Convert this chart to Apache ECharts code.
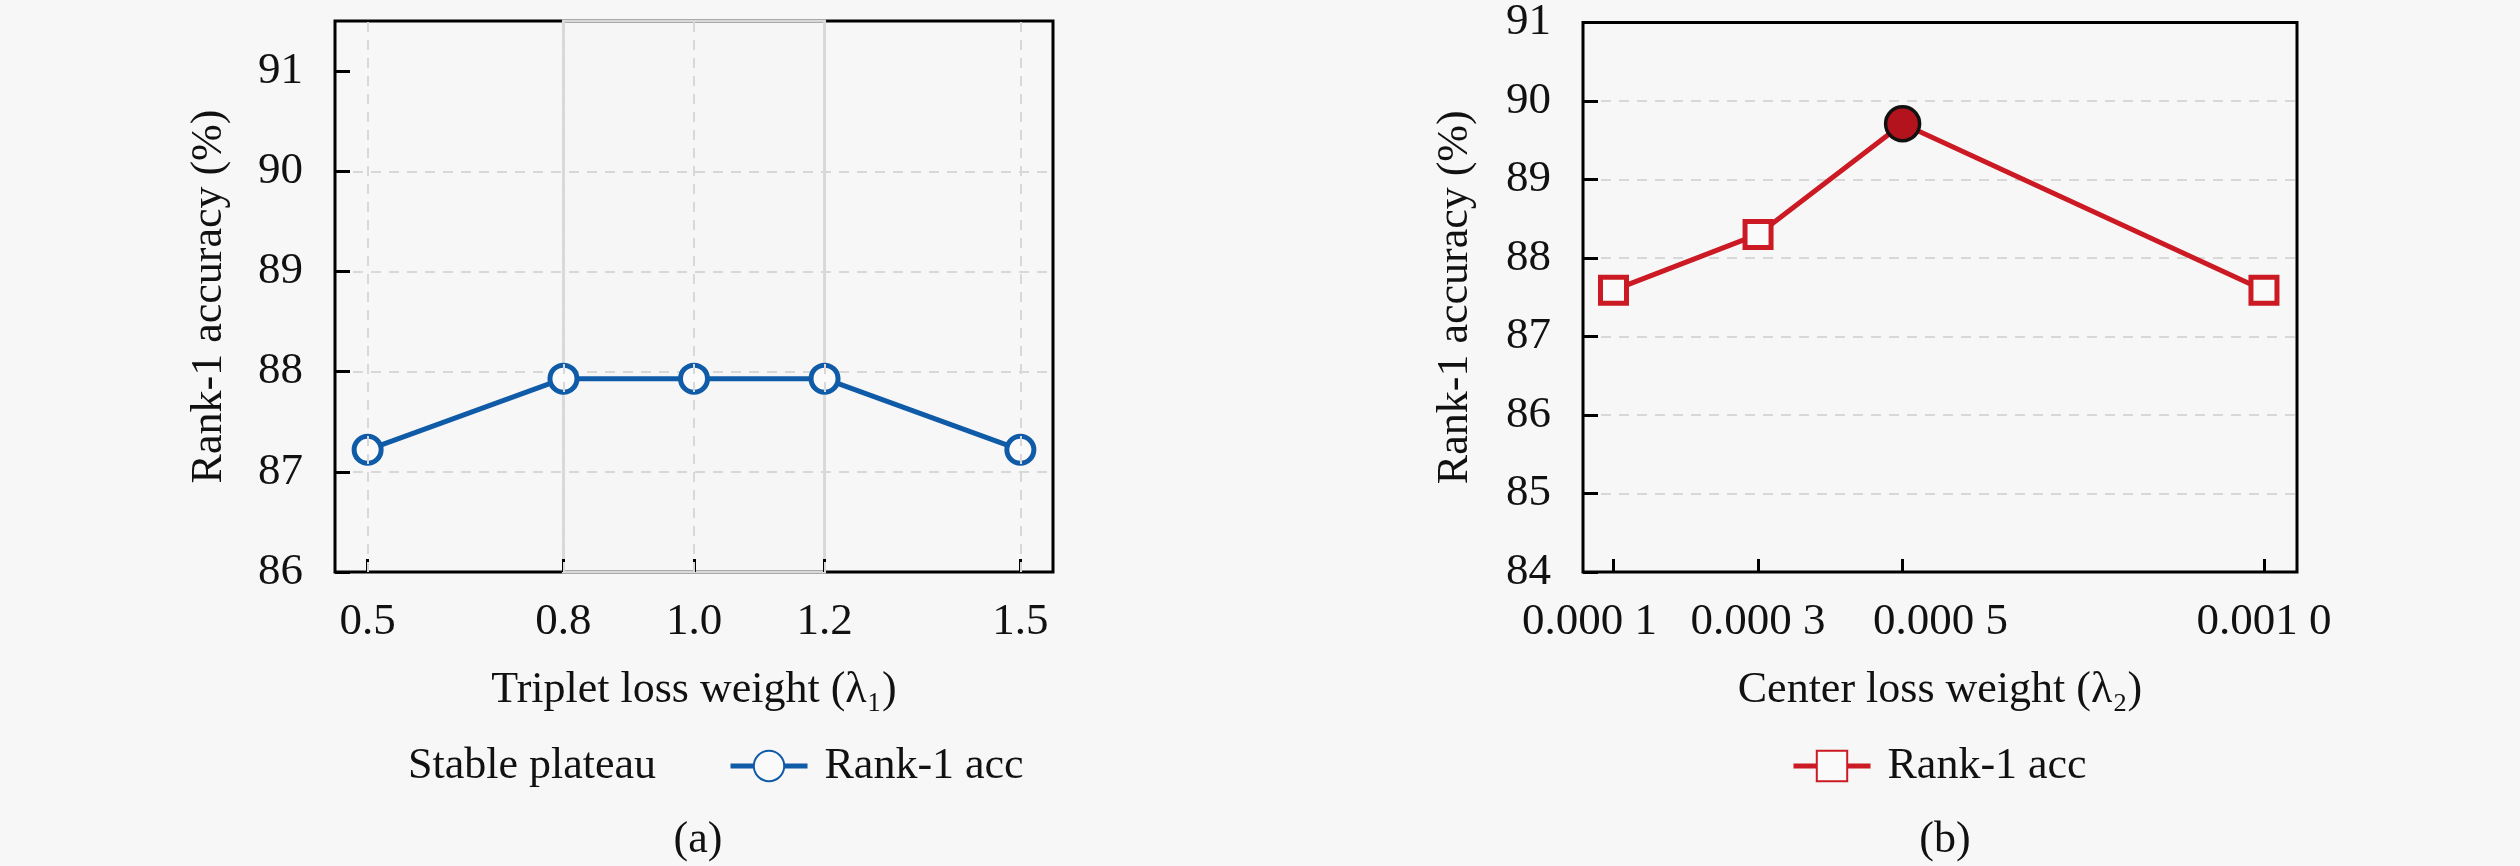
<!DOCTYPE html>
<html>
<head>
<meta charset="utf-8">
<script src="https://cdn.jsdelivr.net/npm/echarts@6.0.0/dist/echarts.min.js"></script>
<style>
  html, body { margin: 0; padding: 0; background: #f7f7f7; }
  #main { width: 2520px; height: 866px; }
</style>
</head>
<body>
<div id="main"></div>
<script>
// (a) triplet loss weight sweep
const tripletWeights = [0.5, 0.8, 1.0, 1.2, 1.5]
const tripletAcc = [87.22, 87.93, 87.93, 87.93, 87.22]
const plateauRange = [0.8, 1.2]
const accTicksA = [86, 87, 88, 89, 90, 91]

// (b) center loss weight sweep
const centerWeights = [0.0001, 0.0003, 0.0005, 0.0010]
const centerAcc = [87.59, 88.30, 89.71, 87.59]
const bestIndex = 2
const accTicksB = [84, 85, 86, 87, 88, 89, 90, 91]

const FONT = '"Liberation Serif", "DejaVu Serif", serif'
const BLUE = '#0f5ba8'
const RED = '#cc1a24'
const GRID_LINE = { color: '#d8d8d8', width: 2, type: [10, 8] }
const TICK_FONT = 45

// labels in (b) are nudged apart like in the original figure
const fmtCenter = v => {
  const s = v.toFixed(4)
  const txt = s.slice(0, 5) + ' ' + s.slice(5)
  if (v === centerWeights[0]) return '{l|' + txt + '}'
  if (v === centerWeights[2]) return '{r|' + txt + '}'
  return '{n|' + txt + '}'
}
const tickText = { fontFamily: FONT, fontSize: TICK_FONT, color: '#111' }

const chart = echarts.init(document.getElementById('main'), null, { renderer: 'canvas' })

function xAxisOf (idx, min, max, ticks, fmt, name) {
  return {
    type: 'value', gridIndex: idx, min: min, max: max, z: 2,
    name: name, nameLocation: 'middle', nameGap: 96,
    nameTextStyle: { fontFamily: FONT, fontSize: 44, color: '#111' },
    axisLine: { show: false },
    axisTick: { show: true, inside: true, length: 13, customValues: ticks, lineStyle: { color: '#000', width: 3 } },
    axisLabel: {
      customValues: ticks, formatter: fmt, margin: 28, fontFamily: FONT, fontSize: TICK_FONT, color: '#111',
      rich: {
        n: tickText,
        l: Object.assign({ padding: [0, 48, 0, 0] }, tickText),
        r: Object.assign({ padding: [0, 0, 0, 76] }, tickText)
      }
    },
    splitLine: { show: false }
  }
}

function yAxisOf (idx, min, max, ticks, gap) {
  return {
    type: 'value', gridIndex: idx, min: min, max: max, interval: 1,
    name: 'Rank-1 accuracy (%)', nameLocation: 'middle', nameGap: gap,
    nameTextStyle: { fontFamily: FONT, fontSize: 44, color: '#111' },
    axisLine: { show: false },
    axisTick: { show: true, inside: true, length: 15, customValues: ticks, lineStyle: { color: '#000', width: 3 } },
    axisLabel: { customValues: ticks, margin: 32, fontFamily: FONT, fontSize: TICK_FONT, color: '#111' },
    splitLine: { show: true, showMinLine: false, showMaxLine: false, lineStyle: GRID_LINE }
  }
}

const option = {
  backgroundColor: '#f7f7f7',
  animation: false,
  title: [
    { text: '(a)', left: 693, top: 813, textAlign: 'center', textStyle: { fontFamily: FONT, fontSize: 44, fontWeight: 'normal', color: '#111' } },
    { text: '(b)', left: 1940, top: 813, textAlign: 'center', textStyle: { fontFamily: FONT, fontSize: 44, fontWeight: 'normal', color: '#111' } }
  ],
  grid: [
    { left: 335, top: 21, width: 718, height: 551, show: true, borderColor: '#000', borderWidth: 3, backgroundColor: 'transparent' },
    { left: 1583, top: 21, width: 714, height: 551, show: true, borderColor: '#000', borderWidth: 3, backgroundColor: 'transparent' }
  ],
  legend: [
    {
      left: 308, top: 739, itemWidth: 77, itemHeight: 38, itemGap: 72,
      textStyle: { fontFamily: FONT, fontSize: 44, color: '#111', padding: [0, 0, 0, 12] },
      data: [
        { name: 'Stable plateau', itemStyle: { opacity: 0 }, lineStyle: { opacity: 0 } },
        { name: 'Rank-1 acc', lineStyle: { width: 5 } }
      ]
    },
    {
      left: 1786, top: 739, itemWidth: 77, itemHeight: 38,
      textStyle: { fontFamily: FONT, fontSize: 44, color: '#111', padding: [0, 0, 0, 12] },
      data: [{ name: 'Rank-1 acc ', lineStyle: { width: 5 } }]
    }
  ],
  xAxis: [
    xAxisOf(0, 0.45, 1.55, tripletWeights, v => '{n|' + v.toFixed(1) + '}', 'Triplet loss weight (λ₁)'),
    xAxisOf(1, 0.0000578, 0.0010457, centerWeights, fmtCenter, 'Center loss weight (λ₂)')
  ],
  yAxis: [
    yAxisOf(0, 86, 91.5, accTicksA, 104),
    yAxisOf(1, 84, 91, accTicksB, 106)
  ],
  series: [
    {
      name: 'Stable plateau', type: 'line', xAxisIndex: 0, yAxisIndex: 0, z: 1,
      data: [], silent: true,
      itemStyle: { color: '#cfcfcf' }, lineStyle: { color: '#cfcfcf' },
      markArea: {
        silent: true,
        itemStyle: { color: 'rgba(140,140,140,0.008)', borderColor: '#d9d9d9', borderWidth: 3 },
        data: [[{ xAxis: plateauRange[0] }, { xAxis: plateauRange[1] }]]
      },
      markLine: {
        silent: true, symbol: ['none', 'none'], label: { show: false },
        lineStyle: GRID_LINE,
        data: tripletWeights.map(v => ({ xAxis: v }))
      }
    },
    {
      name: 'Rank-1 acc', type: 'line', xAxisIndex: 0, yAxisIndex: 0, z: 3,
      data: tripletWeights.map((w, i) => [w, tripletAcc[i]]),
      symbol: 'circle', symbolSize: 27,
      lineStyle: { color: BLUE, width: 5 },
      itemStyle: { color: '#fafafa', borderColor: BLUE, borderWidth: 5 }
    },
    {
      name: 'gridB', type: 'line', xAxisIndex: 1, yAxisIndex: 1, z: 1,
      data: [], silent: true,
      markLine: {
        silent: true, symbol: ['none', 'none'], label: { show: false },
        lineStyle: GRID_LINE,
        data: centerWeights.map(v => ({ xAxis: v }))
      }
    },
    {
      name: 'Rank-1 acc ', type: 'line', xAxisIndex: 1, yAxisIndex: 1, z: 3,
      data: centerWeights.map((w, i) => {
        if (i === bestIndex) {
          return {
            value: [w, centerAcc[i]], symbol: 'circle', symbolSize: 34,
            itemStyle: { color: '#b3131c', borderColor: '#111', borderWidth: 3.5 }
          }
        }
        return [w, centerAcc[i]]
      }),
      symbol: 'rect', symbolSize: 26,
      lineStyle: { color: RED, width: 5 },
      itemStyle: { color: '#fafafa', borderColor: RED, borderWidth: 5 }
    }
  ]
}

chart.setOption(option)
</script>
</body>
</html>
